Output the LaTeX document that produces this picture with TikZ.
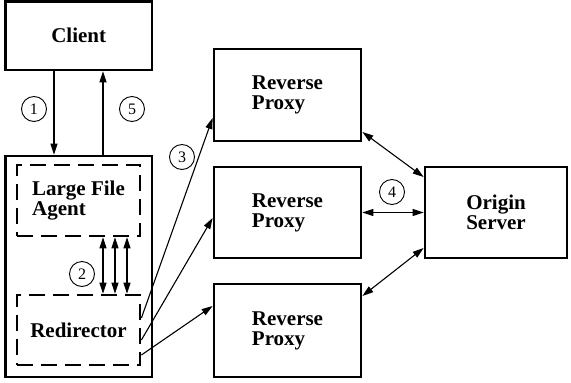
\documentclass[tikz,border=0pt]{standalone}
\usepackage{fontspec}
\setmainfont{Liberation Serif}
\usetikzlibrary{arrows.meta,calc}
\begin{document}
\begin{tikzpicture}[x=1pt,y=-1pt,
  box/.style={draw, line width=2.8pt, rectangle, inner sep=0pt,
    font=\bfseries\fontsize{21}{20}\selectfont, align=left},
  dbox/.style={box, dash pattern=on 16pt off 8pt},
  num/.style={circle, draw, line width=0.9pt, minimum size=25pt, inner sep=0pt,
    font=\fontsize{16}{16}\selectfont},
  conn/.style={line width=1.1pt, -{Triangle[length=11pt,width=7pt]}},
  dconn/.style={line width=1.1pt, {Triangle[length=11pt,width=7pt]}-{Triangle[length=11pt,width=7pt]}}]
\useasboundingbox (0,0) rectangle (571,383);

\node[box, minimum width=146.5pt, minimum height=68.5pt] (client) at (78.75,35.75) {Client};
\node[box, minimum width=146.5pt, minimum height=221pt] (outer) at (78.75,266.5) {};
\node[dbox, minimum width=123pt, minimum height=71pt] (lfa) at (78.5,200.5) {Large File\\Agent};
\node[dbox, minimum width=123pt, minimum height=70pt] (redir) at (78.5,330) {Redirector};
\node[box, minimum width=147pt, minimum height=92pt] (rp1) at (287.5,95) {Reverse\\Proxy};
\node[box, minimum width=147pt, minimum height=91pt] (rp2) at (287.5,212.5) {Reverse\\Proxy};
\node[box, minimum width=147pt, minimum height=93pt] (rp3) at (287.5,330.5) {Reverse\\Proxy};
\node[box, minimum width=142pt, minimum height=91pt] (origin) at (496,212.5) {Origin\\Server};

\node[num] (n1) at (34,109) {1};
\node[num] (n5) at (132,109) {5};
\node[num] (n3) at (182,157) {3};
\node[num] (n2) at (82,274) {2};
\node[num] (n4) at (392,192) {4};

\draw[conn] ([xshift=-24.75pt]client.south) -- ([xshift=-24.75pt]outer.north);
\draw[conn] ([xshift=24.25pt]outer.north) -- ([xshift=24.25pt]client.south);

\draw[dconn] ([xshift=24.5pt]lfa.south) -- ([xshift=24.5pt]redir.north);
\draw[dconn] ([xshift=36.5pt]lfa.south) -- ([xshift=36.5pt]redir.north);
\draw[dconn] ([xshift=48.5pt]lfa.south) -- ([xshift=48.5pt]redir.north);

\draw[conn] ([yshift=12pt]redir.east) -- ([yshift=-23pt]rp1.west);
\draw[conn] ([yshift=-10pt]redir.east) -- ([yshift=-5.5pt]rp2.west);
\draw[conn] ([yshift=-25pt]redir.east) -- ([yshift=24.5pt]rp3.west);

\draw[dconn] ([yshift=-37pt]rp1.east) -- ([yshift=35.5pt]origin.west);
\draw[dconn] (rp2.east) -- (origin.west);
\draw[dconn] ([yshift=34.5pt]rp3.east) -- ([yshift=-35.5pt]origin.west);
\end{tikzpicture}
\end{document}
